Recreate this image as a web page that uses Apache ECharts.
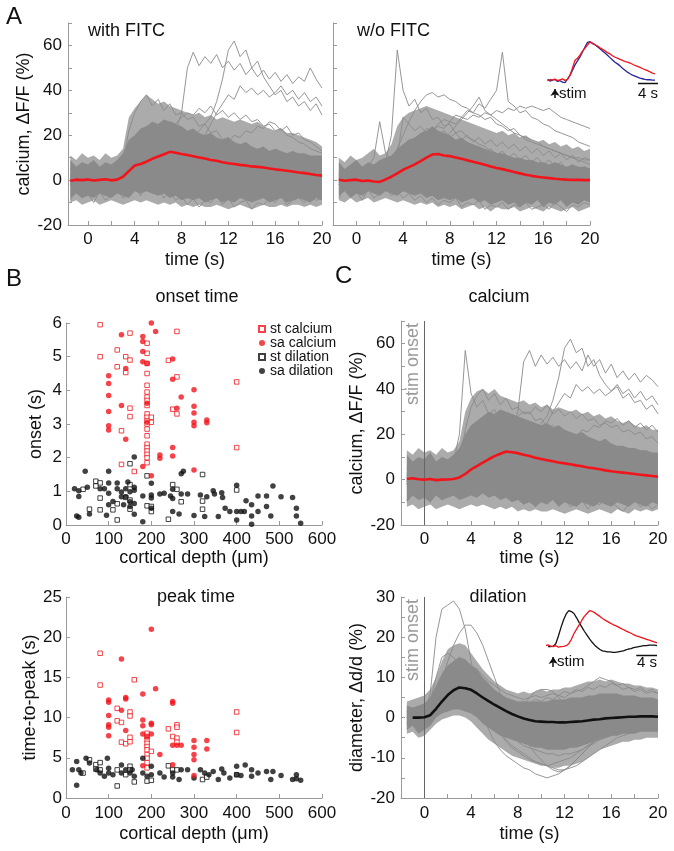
<!DOCTYPE html>
<html><head><meta charset="utf-8">
<script src="https://cdn.jsdelivr.net/npm/echarts@6/dist/echarts.min.js"></script>
<style>html,body{margin:0;padding:0;background:#fff}#c{width:674px;height:851px}</style>
</head><body><div id="c"></div>
<script>
// ---------- time base (s) ----------
const T = [-1.5,-1,-0.5,0, 0.5,1,1.5,2,2.5, 3,3.5,4,4.5,5, 5.5,6,6.5,7,7.5, 8,8.5,9,9.5,10, 10.5,11,11.5,12,12.5, 13,13.5,14,14.5,15, 15.5,16,16.5,17,17.5, 18,18.5,19,19.5,20];

// ---------- A: with FITC ----------
const meanF = [-0.3,0.2,0,0.3, -0.2,0.1,0.4,-0.1,0.2, 1.5,4.0,6.5,7.2,8.2, 9.5,10.5,11.5,12.6,12.2, 11.6,11.2,10.6,10.1,9.6, 9.0,8.6,8.0,7.5,7.2, 6.8,6.5,6.1,5.9,5.6, 5.2,4.8,4.5,4.2,3.8, 3.4,3.1,2.7,2.3,2.0];
const lowF = [-8,-6,-8,-7, -8,-6,-7,-8,-6, -7,-8,-5,-6,-5, -6,-7,-6,-8,-7, -9,-8,-9,-8,-10, -9,-8,-10,-9,-10, -8,-9,-10,-9,-8, -10,-9,-8,-10,-9, -8,-9,-10,-8,-9];
const upF = [9,6,8,7, 9,6,8,7,9, 12,18,20,23,24, 26,25,27,26,25, 24,22,23,21,20, 21,19,18,19,17, 16,17,15,14,15, 13,14,13,12,13, 12,12,11,11,11];
const oLoF = [-10,-9,-11,-10, -9,-11,-10,-9,-10, -11,-10,-9,-10,-9, -10,-11,-10,-11,-10, -12,-11,-12,-11,-12, -12,-11,-12,-13,-12, -11,-12,-13,-12,-11, -12,-12,-11,-12,-11, -11,-12,-11,-12,-11];
const oUpF = [11,9,12,10, 11,9,12,10,11, 14,28,32,35,38, 36,34,35,33,32, 31,30,29,30,28, 29,27,28,27,26, 27,26,25,26,24, 23,22,23,21,21, 20,19,18,17,15];
const fL1 = [5,1,4,3, 0,4,2,5,3, 6,10,14,12,16, 15,18,17,20,22, 30,50,57,51,55, 52,56,50,53,49, 52,47,50,46,49, 45,48,44,47,43, 46,44,50,45,41];
const fL2 = [1,-3,2,0, 3,-1,2,0,4, 3,7,9,8,11, 10,12,11,14,13, 15,16,18,22,25, 28,35,45,58,62, 55,58,50,53,46, 42,38,40,35,37, 33,35,31,34,29];
const fL3 = [-2,3,0,2, -1,3,1,-2,2, 4,8,12,10,14, 13,16,15,17,14, 16,14,15,17,20, 25,30,34,38,36, 42,39,41,38,40, 37,39,42,38,40, 36,39,35,37,33];
const fL4 = [-2,4,0,5, -1,3,1,-2,4, 8,22,30,35,38, 33,36,31,34,29, 30,27,28,24,25, 21,22,18,19,15, 16,12,13,10,11, 8,9,6,7,4, 5,3,4,1,2];
const fL5 = [2,-4,1,-2, 3,-1,2,-3,1, 0,6,10,14,18, 20,24,22,26,25, 28,30,29,32,30, 33,29,31,28,30, 27,29,26,27,24, 25,22,23,20,19, 17,16,14,13,12];
const fL6 = [-9,-4,-8,-6, -10,-5,-9,-7,-4, -8,-6,-3,-7,-2, -6,-4,-8,-5,-9, -7,-11,-8,-12,-9, -10,-7,-11,-8,-12, -10,-9,-13,-10,-11, -8,-10,-7,-11,-9, -8,-10,-7,-9,-8];
const fL7 = [-1,6,2,-3, 5,0,7,1,-2, 3,9,14,12,17, 15,19,16,20,18, 17,19,15,18,14, 16,13,15,12,14, 11,13,10,12,9, 11,8,10,7,9, 6,8,5,7,6];
const fL8 = [3,-2,4,0, -3,2,-1,3,0, 1,5,8,6,10, 9,12,11,13,12, 14,13,12,15,14, 16,15,18,17,20, 19,22,21,24,23, 26,25,22,24,20, 21,18,17,15,13];

// ---------- A: w/o FITC ----------
const meanN = [0.2,-0.3,0,0.2, -0.4,-0.2,-0.6,-0.8,0.3, 1.5,3.0,4.6,5.8,7.0, 8.5,10.0,11.4,11.6,11.0, 10.7,10.1,9.5,8.8,8.2, 7.5,6.8,6.1,5.4,4.9, 4.3,3.6,3.0,2.4,1.9, 1.5,1.2,0.9,0.6,0.4, 0.2,0.1,0.1,0,0];
const lowN = [-7,-5,-8,-6, -7,-5,-6,-7,-5, -6,-7,-5,-6,-7, -6,-8,-7,-9,-8, -9,-8,-10,-9,-8, -10,-9,-11,-10,-9, -11,-10,-12,-10,-11, -9,-12,-10,-11,-9, -12,-10,-11,-9,-10];
const upN = [8,5,7,9, 6,8,7,9,10, 11,14,16,18,19, 21,22,24,22,21, 20,18,19,17,16, 15,14,13,12,12, 11,10,10,9,9, 8,8,7,8,7, 6,7,6,6,5];
const oLoN = [-9,-10,-8,-10, -9,-8,-10,-9,-8, -9,-10,-9,-10,-11, -10,-11,-10,-12,-11, -12,-11,-13,-12,-11, -13,-12,-14,-12,-13, -13,-12,-14,-13,-12, -13,-14,-12,-13,-14, -13,-12,-14,-13,-12];
const oUpN = [10,8,11,9, 10,12,14,11,12, 16,24,28,30,31, 32,33,32,31,30, 29,28,27,26,25, 24,23,22,21,22, 20,21,19,20,18, 17,18,16,17,15, 16,14,15,13,14];
const nR1 = [-1,3,0,4, 1,-2,3,5,8, 20,58,40,33,36, 30,32,27,28,24, 25,21,22,19,18, 16,15,13,12,11, 10,9,8,7,6, 6,5,4,5,3, 4,2,3,2,1];
const nR2 = [2,-2,1,3, -1,2,0,4,6, 9,14,20,26,31, 35,38,39,37,38, 36,35,33,32,30, 29,27,28,25,24, 22,23,20,19,18, 17,15,14,13,12, 11,10,9,8,7];
const nR3 = [-2,2,0,-3, 1,3,-1,2,0, 4,7,10,14,18, 20,23,22,25,27, 26,29,28,31,30, 34,32,36,40,57, 35,33,30,31,28, 27,25,24,22,21, 20,19,17,16,15];
const nR4 = [3,-1,2,4, 0,-2,3,1,5, 8,12,15,18,17, 20,19,22,24,23, 26,25,28,27,29, 28,30,29,31,30, 32,31,33,32,33, 32,31,32,30,28, 27,26,25,24,23];
const nR5 = [0,4,1,5, 2,6,10,26,12, 9,11,13,12,15, 14,16,15,17,16, 15,17,14,16,13, 15,12,14,11,13, 10,12,9,11,8, 10,7,9,6,8, 5,7,4,6,5];
const nR6 = [-8,-3,-7,-5, -9,-4,-8,-6,-3, -7,-5,-8,-6,-9, -7,-10,-8,-11,-9, -10,-8,-12,-10,-11, -9,-13,-11,-12,-10, -13,-11,-12,-10,-13, -12,-11,-13,-10,-12, -14,-11,-12,-10,-11];
const nR7 = [-2,3,0,-1, 2,1,-3,0,3, 6,10,28,25,22, 24,21,23,20,22, 19,21,18,20,17, 19,16,18,15,17, 14,16,13,15,12, 14,11,13,10,12, 9,11,8,10,9];
const nR8 = [1,-2,2,0, -1,1,2,0,3, 5,7,9,11,13, 15,17,16,19,18, 21,24,27,30,33, 37,31,29,27,25, 23,21,20,18,17, 16,15,14,13,12, 11,10,10,9,9];

// ---------- C: calcium (all) ----------
const meanA = [0.3,0.6,0.2,0, 0.3,-0.2,0,0.1,0.3, 1.0,2.5,4.5,6.0,7.5, 9.0,10.4,11.4,12.4,12.1, 11.7,11.0,10.4,9.7,9.1, 8.6,8.1,7.6,7.2,6.8, 6.3,5.9,5.4,5.0,4.6, 4.1,3.7,3.4,3.1,2.8, 2.5,2.2,1.9,1.6,1.3];
const lowA = [-10,-7,-9,-8, -10,-7,-9,-8,-7, -9,-8,-7,-8,-6, -8,-7,-9,-8,-10, -9,-11,-10,-12,-10, -11,-9,-12,-10,-11, -12,-10,-11,-12,-10, -11,-12,-10,-11,-12, -10,-11,-12,-10,-11];
const upA = [11,8,10,9, 12,8,10,9,11, 14,20,24,26,28, 30,29,31,30,29, 28,27,26,25,24, 25,23,24,22,21, 20,21,19,18,17, 18,16,15,15,14, 14,13,13,12,12];
const oLoA = [-12,-11,-13,-12, -11,-13,-12,-11,-12, -13,-12,-11,-12,-11, -12,-13,-12,-13,-12, -14,-13,-14,-13,-14, -14,-13,-14,-15,-14, -13,-14,-15,-14,-13, -14,-15,-13,-14,-15, -13,-14,-13,-14,-13];
const oUpA = [13,11,14,12, 13,11,14,12,13, 17,30,36,39,40, 38,40,37,36,35, 34,35,33,34,32, 33,31,32,31,30, 31,29,30,28,29, 27,28,26,25,26, 24,23,24,22,22];
const aC1 = [-1,3,0,4, 1,-2,3,5,8, 20,57,38,32,35, 29,31,26,27,23, 24,20,21,18,17, 15,14,12,11,10, 9,8,7,6,5, 5,4,3,4,2, 3,1,2,1,0];
const aC2 = [5,1,4,3, 0,4,2,5,3, 6,10,14,12,16, 15,18,17,20,22, 30,52,57,50,55, 51,54,50,53,49, 52,48,55,50,53, 47,51,45,48,44, 47,43,46,44,41];
const aC3 = [1,-3,2,0, 3,-1,2,0,4, 3,7,9,8,11, 10,12,11,14,13, 15,16,18,22,25, 28,35,45,58,62, 56,58,50,53,46, 42,39,41,36,38, 34,35,31,33,29];
const aC4 = [-2,3,0,2, -1,3,1,-2,2, 4,8,12,10,14, 13,16,15,17,14, 16,14,15,17,20, 25,30,34,38,36, 42,39,41,38,40, 37,39,42,38,40, 36,39,35,37,33];
const aC5 = [-2,4,0,5, -1,3,1,-2,4, 8,22,32,37,40, 35,38,33,36,31, 32,29,30,26,27, 23,24,20,21,17, 18,14,15,12,13, 10,11,8,9,6, 7,5,6,3,4];
const aC6 = [2,-4,1,-2, 3,-1,2,-3,1, 0,6,10,14,18, 20,24,22,26,25, 28,30,29,32,30, 33,29,31,28,30, 27,29,26,27,24, 25,23,24,21,22, 20,21,18,19,16];
const aC7 = [-9,-4,-8,-6, -10,-5,-9,-7,-4, -8,-6,-3,-7,-2, -6,-4,-8,-5,-9, -7,-11,-8,-12,-9, -10,-7,-11,-8,-12, -10,-9,-13,-10,-11, -8,-10,-12,-14,-11, -9,-12,-10,-13,-11];
const aC8 = [-1,6,2,-3, 5,0,7,1,-2, 3,9,14,12,17, 15,19,16,20,18, 17,19,15,18,14, 16,13,15,12,14, 11,13,10,12,9, 11,8,10,7,9, 6,8,5,7,6];
const aC9 = [3,-2,4,0, -3,2,-1,3,0, 1,5,8,6,10, 9,12,11,13,12, 14,13,12,15,14, 16,15,18,17,20, 19,22,21,24,23, 26,25,27,24,26, 23,25,22,24,21];

// ---------- C: dilation ----------
const meanD = [null,0,0,0.1, 0.6,2.2,4.0,5.6,6.8, 7.5,7.3,6.9,6.0,5.0, 4.1,3.2,2.4,1.6,0.9, 0.3,-0.2,-0.6,-0.9,-1.0, -1.1,-1.1,-1.2,-1.2,-1.1, -1.0,-0.9,-0.7,-0.5,-0.4, -0.2,-0.1,0,0.1,0.2, 0.2,0.3,0.3,0.3,0.2];
const lowD = [-3,-2,-4,-3, -2,0,1,1.5,2, 2,1.5,1,0,-1.5, -2.5,-3.5,-4.5,-5,-5.5, -6,-6.5,-7,-7.5,-7.5, -8,-8,-8,-8,-7.5, -7.5,-7,-6.5,-6,-5.5, -5,-4.5,-4.5,-4,-4, -4,-3.5,-3.5,-3.5,-3.5];
const upD = [3,2.5,3,3.5, 5,8,11,13,14, 15,14.5,13,12,10, 8.5,7,6,5,4.5, 4,4,4,4,4, 4,4.5,4.5,4.5,5, 5,5,5.5,5.5,6, 6,6,6,5.5,5.5, 5.5,5,5,5,4.5];
const oLoD = [-4,-3.5,-5,-4.5, -3,-1.5,-0.5,0,0.5, 0.5,0,-1,-2.5,-4, -5.5,-6.5,-7.5,-8.5,-9.5, -10,-10.5,-11,-11.5,-12, -12,-12.5,-12.5,-12,-12, -11.5,-11,-10,-9,-8, -7.5,-7,-6.5,-6,-6, -5.5,-5.5,-5,-5,-5];
const oUpD = [4,4.5,5,5.5, 7,10,14,17,18, 18.5,18,16,14,12, 10.5,9,8,7,6.5, 6,6.5,6,6.5,7, 6.5,7,7,7.5,7.5, 8,8.5,9,9,9.5, 9,9.5,9,8.5,8.5, 8,8,7.5,7.5,7];
const dD1 = [0,1,-0.5,0.5, 6,20,27,28,29, 27,22,14,7,1, -3,-6,-8,-9.5,-10.5, -11.5,-12.5,-13,-14,-14.5, -15,-14.5,-14,-13,-12, -10.5,-9,-7.5,-6,-4.5, -3.5,-2.5,-1.5,-1,-0.5, 0,0,0.5,0,0.5];
const dD2 = [0,-1,0.5,0, 2,5,9,14,18, 21,23,23,21,18, 14,10,6,3,0, -2.5,-5,-7,-9,-10.5, -12,-13,-13.5,-13,-12, -10.5,-9,-7.5,-6,-4.5, -3.5,-2.5,-1.5,-1,-0.5, 0,0,0.5,0.5,0];
const dD3 = [0.5,-0.5,1,0, 2,5,8,10,11, 11,10,9,8,6, 5,4,3,2.5,2, 2,3,5,6.5,7, 7,6.5,5,3.5,2.5, 2,1.5,1,1,0.5, 0.5,0,0,0.5,0, 0,0.5,0,0.5,0];
const dD4 = [-1,0,1,0, 1,3,5,7,8, 9,8.5,8,7,6, 5,4,3.5,3,3.5, 3,4,3.5,4.5,4, 5,4.5,5.5,5,6, 6.5,7,8,9,10, 9.5,9,8,8.5,7.5, 7,7.5,6.5,7,6];
const dD5 = [0,1,-1,0, 1,4,8,11,12, 12,11,9,7,4, 1,-2,-4,-6,-7.5, -8.5,-9.5,-10.5,-11,-11.5, -12,-12.5,-13,-13,-12.5, -12,-11,-10,-9,-8, -7,-6,-5,-4.5,-4, -3.5,-3,-3,-2.5,-2];
const dD6 = [1.5,-1,2,1, 3,6,9,12,14, 15,14,13,12,10.5, 9,8,7,6,5.5, 5,4.5,5,5.5,5, 5.5,6,5.5,6.5,6, 7,6.5,7.5,7,8, 7.5,8.5,8,7,7.5, 6.5,7,6,6.5,6];
const dD7 = [-1.5,0,-2,-1, 0,2,4,6,7.5, 8,7.5,6.5,5,3, 1,-1,-2.5,-4,-5, -6,-7,-7.5,-8,-8.5, -9,-9,-9.5,-9,-9, -8.5,-8,-7,-6.5,-5.5, -5,-4.5,-4,-3.5,-3, -3,-2.5,-2.5,-2,-2];
const dD8 = [0,-2,1,-1, 4,10,15,16,15, 13,11,8,5,2, 0,-2,-4,-5.5,-7, -8,-9,-10,-11,-11.5, -12,-11.5,-11,-10.5,-10, -9,-8,-7,-6,-5, -4,-3.5,-3,-2.5,-2, -2,-1.5,-1.5,-1,-1];

// ---------- B: onset time [depth um, onset s] ----------
const stCaOn = [[80,5.95],[80,5.0],[150,5.7],[120,5.2],[120,4.7],[140,5.0],[150,4.9],[140,4.53],[130,2.8],[130,1.8],[150,3.47],[150,3.22],[160,1.59],
 [190,5.4],[190,5.1],[190,4.8],[190,4.5],[190,4.15],[190,3.95],[190,3.8],[190,3.7],[190,3.55],[190,3.3],[190,3.2],[190,3.1],[190,3.0],[190,2.85],[190,2.65],[190,2.4],[190,2.3],[190,2.2],[190,2.1],[190,2.0],[190,1.85],
 [200,3.2],[200,3.05],[240,4.89],[260,5.75],[260,4.4],[250,3.44],[260,3.3],[400,4.25],[400,2.3]];
const saCaOn = [[130,5.65],[100,4.43],[100,4.2],[100,3.85],[100,3.37],[100,2.95],[100,2.82],[130,3.55],[140,4.65],[140,2.55],[180,5.6],[180,5.45],[180,5.15],[180,4.85],[190,4.8],[190,3.62],[190,3.05],[180,1.74],[200,1.46],[200,6.0],[210,5.75],[220,2.08],[220,1.98],[250,4.93],[250,4.33],[250,2.3],[250,2.05],[260,3.47],[270,3.8],[300,4.02],[300,3.53],[300,3.33],[300,3.05],[300,2.95],[300,1.63],[330,3.12],[330,3.04]];
const stDiOn = [[40,1.06],[70,1.3],[80,1.25],[70,1.16],[80,0.8],[55,0.47],[80,0.45],[110,0.45],[120,0.15],[120,0.63],[140,0.82],[150,1.82],[150,1.2],[150,0.74],[150,0.47],[190,1.46],[190,0.57],[200,0.4],[200,0.55],[240,0.17],[250,1.2],[260,1.06],[270,0.69],[320,1.5],[320,0.71],[320,0.47],[400,1.04]];
const saDiOn = [[20,1.08],[30,1.02],[30,0.85],[25,0.27],[30,0.23],[45,1.6],[50,1.12],[55,0.33],[80,1.08],[90,1.08],[100,1.6],[100,1.25],[100,0.94],[100,0.6],[95,0.29],[110,0.7],[120,1.25],[120,1.08],[130,0.98],[130,0.84],[135,0.6],[140,1.08],[140,0.84],[145,1.28],[150,0.99],[150,0.69],[150,0.55],[160,2.02],[160,1.12],[160,0.64],[160,0.32],[160,1.03],[180,0.86],[180,0.1],[200,1.24],[200,0.89],[200,0.8],[200,0.5],[220,0.92],[230,0.94],[245,0.86],[250,1.06],[250,0.79],[250,0.4],[265,0.33],[270,1.52],[275,1.6],[270,0.92],[285,0.92],[300,0.28],[315,0.89],[325,0.25],[330,0.84],[345,1.02],[348,0.92],[357,0.25],[365,0.96],[367,0.82],[373,0.5],[384,0.4],[400,1.18],[400,0.4],[400,0.15],[410,0.4],[418,0.4],[422,0.72],[435,0.6],[435,0.27],[435,0.02],[450,0.86],[450,0.4],[470,0.86],[470,0.55],[480,0.27],[485,1.16],[504,0.84],[531,0.82],[540,0.5],[540,0.27],[550,0.05]];

// ---------- B: peak time [depth um, time-to-peak s] ----------
const stCaPk = [[80,18.0],[80,14.05],[160,14.7],[120,11.15],[120,9.6],[130,9.4],[150,10.7],[150,10.2],[130,6.95],[140,6.75],[150,7.0],[150,7.55],[190,8.05],[190,7.65],[190,7.25],[190,6.8],[190,6.4],[190,6.0],[190,5.4],[190,4.95],[190,4.4],[190,3.75],[200,5.8],[240,8.6],[250,7.65],[260,9.1],[260,8.8],[260,7.45],[260,6.95],[400,10.7],[400,8.15]];
const saCaPk = [[200,21.0],[130,17.3],[210,13.6],[180,12.95],[100,12.2],[100,11.9],[130,10.9],[140,12.5],[140,12.3],[100,10.25],[100,9.1],[100,8.8],[100,7.75],[140,8.4],[180,9.7],[180,9.0],[180,7.95],[200,9.3],[200,9.1],[200,7.95],[180,4.0],[220,5.4],[250,12.0],[250,11.8],[250,6.55],[250,4.15],[270,6.55],[260,6.55],[300,7.15],[300,6.3],[300,5.4],[300,4.75],[300,2.8],[330,7.15],[330,6.1],[190,7.6]];
const stDiPk = [[40,3.1],[55,4.75],[70,4.15],[80,4.4],[70,3.6],[80,3.5],[120,1.5],[120,3.5],[140,2.9],[150,3.95],[150,3.5],[160,2.0],[190,2.1],[200,2.2],[240,4.0],[250,3.5],[260,3.5],[320,2.3],[330,2.6],[400,2.9]];
const saDiPk = [[25,1.6],[15,3.5],[25,4.55],[30,3.5],[35,3.1],[47,4.95],[55,4.35],[72,3.5],[80,3.1],[97,4.95],[100,3.7],[100,3.1],[90,2.7],[110,2.9],[130,4.1],[130,3.1],[140,3.5],[150,3.1],[155,3.5],[160,2.7],[180,4.95],[180,3.1],[190,2.7],[200,3.95],[200,2.9],[220,3.1],[230,2.6],[250,3.1],[250,2.6],[265,2.3],[270,3.5],[285,3.5],[300,2.5],[315,3.5],[325,3.1],[335,2.9],[345,3.3],[357,2.3],[365,3.6],[370,3.1],[384,2.5],[400,3.95],[400,2.9],[420,4.1],[410,2.8],[435,3.5],[435,2.7],[450,3.1],[470,3.3],[480,2.3],[485,3.3],[504,2.8],[531,2.3],[540,2.9],[540,2.4],[550,2.2]];

// ---------- tick values ----------
const timeLabels = [0,4,8,12,16,20];
const timeTicks = [0,2,4,6,8,10,12,14,16,18,20];
const caLabels = [-20,0,20,40,60];
const caTicks = [-20,-10,0,10,20,30,40,50,60,70];
const diLabels = [-20,-10,0,10,20,30];
const diTicks = [-20,-15,-10,-5,0,5,10,15,20,25,30];
const depthLabels = [0,100,200,300,400,500,600];
const onsetLabels = [0,1,2,3,4,5,6];
const peakLabels = [0,5,10,15,20,25];

// ---------- styling ----------
const FONT = '"Liberation Sans", Arial, Helvetica, sans-serif';
const AX = '#9a9a9a', TXT = '#111';
const GRAY = '#8a8a8a', LGRAY = '#ababab', RED = '#f2141b', BLUE = '#26269a', BLK = '#111';

function axis(gi, o) {
  return {
    type: 'value', gridIndex: gi, min: o.min, max: o.max,
    axisLine: { show: true, onZero: false, lineStyle: { color: AX, width: 1 } },
    axisTick: { show: true, inside: true, length: 4, lineStyle: { color: AX }, customValues: o.ticks },
    axisLabel: { show: o.labels !== null, customValues: o.labels || [], color: TXT, fontSize: 17, fontFamily: FONT, margin: o.margin || 5 },
    splitLine: { show: false },
    name: o.name || '', nameLocation: 'middle', nameGap: o.gap || 25,
    nameTextStyle: { fontSize: 18, color: TXT, fontFamily: FONT }
  };
}
function hidden(gi, min, max) {
  return { type: 'value', gridIndex: gi, min, max, show: false, splitLine: { show: false } };
}
function pts(arr) { const r = []; T.forEach((t, i) => { if (arr[i] !== null && arr[i] !== undefined) r.push([t, arr[i]]); }); return r; }
function trace(gi, arr, color, w, z) {
  return { type: 'line', xAxisIndex: gi, yAxisIndex: gi, data: pts(arr), symbol: 'none', showSymbol: false,
    lineStyle: { color, width: w }, z, silent: true, animation: false, clip: true };
}
function band(gi, lo, up, fill, z) {
  return { type: 'custom', xAxisIndex: gi, yAxisIndex: gi, clip: true, silent: true, z, animation: false,
    data: [[5, 0]],
    renderItem: function (params, api) {
      const p = [];
      for (let i = 0; i < T.length; i++) if (up[i] !== null) p.push(api.coord([T[i], up[i]]));
      for (let i = T.length - 1; i >= 0; i--) if (lo[i] !== null) p.push(api.coord([T[i], lo[i]]));
      return { type: 'polygon', shape: { points: p }, style: { fill } };
    } };
}
function norm(a) { const m = Math.max(...a.filter(v => v !== null)); return a.map(v => v === null ? null : v / m); }
function seg(gi, coords, color, arrow) {
  return { type: 'lines', coordinateSystem: 'cartesian2d', xAxisIndex: gi, yAxisIndex: gi, silent: true, animation: false,
    symbol: arrow ? ['none', 'arrow'] : ['none', 'none'], symbolSize: arrow ? 7 : 0,
    lineStyle: { color, width: arrow ? 1.5 : 1.3, opacity: 1, curveness: 0 }, data: [{ coords }], z: 5 };
}
function sc(gi, name, data, color, hollow) {
  return { type: 'scatter', name, xAxisIndex: gi, yAxisIndex: gi, data, silent: true, animation: false,
    symbol: hollow ? 'rect' : 'circle', symbolSize: hollow ? 4.5 : 5.5,
    itemStyle: hollow ? { color: '#fff', borderColor: color, borderWidth: 1 } : { color, borderWidth: 0 }, z: hollow ? 3 : 4 };
}

const grids = [
  { left: 68, top: 23, width: 254, height: 202 },   // 0 A with FITC
  { left: 333, top: 23, width: 257, height: 202 },  // 1 A w/o FITC
  { left: 547, top: 36, width: 111, height: 64 },   // 2 inset A
  { left: 66, top: 323, width: 256, height: 202 },  // 3 B onset
  { left: 66, top: 597, width: 256, height: 201 },  // 4 B peak
  { left: 401, top: 321, width: 257, height: 204 }, // 5 C calcium
  { left: 401, top: 597, width: 257, height: 201 }, // 6 C dilation
  { left: 547, top: 607, width: 110, height: 63 }   // 7 inset C
];

const xAxes = [
  axis(0, { min: -1.7, max: 20, ticks: timeTicks, labels: timeLabels, name: 'time (s)', gap: 26, margin: 6 }),
  axis(1, { min: -2, max: 20, ticks: timeTicks, labels: timeLabels, name: 'time (s)', gap: 26, margin: 6 }),
  hidden(2, -1.6, 20.6),
  axis(3, { min: 0, max: 600, ticks: depthLabels, labels: depthLabels, name: 'cortical depth (\u03bcm)', gap: 24, margin: 6 }),
  axis(4, { min: 0, max: 600, ticks: depthLabels, labels: depthLabels, name: 'cortical depth (\u03bcm)', gap: 27, margin: 7 }),
  axis(5, { min: -2, max: 20, ticks: timeTicks, labels: timeLabels, name: 'time (s)', gap: 24, margin: 6 }),
  axis(6, { min: -2, max: 20, ticks: timeTicks, labels: timeLabels, name: 'time (s)', gap: 27, margin: 7 }),
  hidden(7, -1.2, 20)
];
const yAxes = [
  axis(0, { min: -20, max: 70, ticks: caTicks, labels: caLabels, name: 'calcium, \u0394F/F (%)', gap: 27, margin: 6 }),
  axis(1, { min: -20, max: 70, ticks: caTicks, labels: null }),
  hidden(2, -0.52, 1.15),
  axis(3, { min: 0, max: 6, ticks: onsetLabels, labels: onsetLabels, name: 'onset (s)', gap: 21, margin: 4 }),
  axis(4, { min: 0, max: 25, ticks: peakLabels, labels: peakLabels, name: 'time-to-peak (s)', gap: 22, margin: 4 }),
  axis(5, { min: -20, max: 70, ticks: caTicks, labels: caLabels, name: 'calcium, \u0394F/F (%)', gap: 27, margin: 6 }),
  axis(6, { min: -20, max: 30, ticks: diTicks, labels: diLabels, name: 'diameter, \u0394d/d (%)', gap: 27, margin: 6 }),
  hidden(7, -0.65, 1.1)
];

const series = [];
// A with FITC
series.push(band(0, oLoF, oUpF, LGRAY, 0));
series.push(band(0, lowF, upF, GRAY, 1));
[fL1, fL2, fL3, fL4, fL5, fL6, fL7, fL8].forEach(a => series.push(trace(0, a, GRAY, 0.9, 2)));
series.push(trace(0, meanF, RED, 2.6, 6));
// A w/o FITC
series.push(band(1, oLoN, oUpN, LGRAY, 0));
series.push(band(1, lowN, upN, GRAY, 1));
[nR1, nR2, nR3, nR4, nR5, nR6, nR7, nR8].forEach(a => series.push(trace(1, a, GRAY, 0.9, 2)));
series.push(trace(1, meanN, RED, 2.6, 6));
// inset A
series.push(trace(2, norm(meanN), BLUE, 1.3, 5));
series.push(trace(2, norm(meanF), RED, 1.3, 6));
series.push(seg(2, [[0, -0.47], [0, -0.235]], BLK, true));
series.push(seg(2, [[16.6, -0.08], [20.6, -0.08]], BLK, false));
// B onset
series.push(sc(3, 'st dilation', stDiOn, BLK, true));
series.push(sc(3, 'sa dilation', saDiOn, BLK, false));
series.push(sc(3, 'st calcium', stCaOn, RED, true));
series.push(sc(3, 'sa calcium', saCaOn, RED, false));
// B peak
series.push(sc(4, 'st dilation', stDiPk, BLK, true));
series.push(sc(4, 'sa dilation', saDiPk, BLK, false));
series.push(sc(4, 'st calcium', stCaPk, RED, true));
series.push(sc(4, 'sa calcium', saCaPk, RED, false));
// C calcium
series.push(band(5, oLoA, oUpA, LGRAY, 0));
series.push(band(5, lowA, upA, GRAY, 1));
[aC1, aC2, aC3, aC4, aC5, aC6, aC7, aC8, aC9].forEach(a => series.push(trace(5, a, GRAY, 0.9, 2)));
const stimLine = {
  silent: true, symbol: ['none', 'none'], animation: false,
  lineStyle: { color: '#666', width: 1, type: 'solid' },
  label: { show: true, formatter: 'stim onset', position: 'insideEndTop', color: '#9a9a9a', fontSize: 18, fontFamily: FONT, distance: 2 },
  data: [{ xAxis: 0 }]
};
const mA = trace(5, meanA, RED, 2.6, 6); mA.markLine = stimLine; series.push(mA);
// C dilation
series.push(band(6, oLoD, oUpD, LGRAY, 0));
series.push(band(6, lowD, upD, GRAY, 1));
[dD1, dD2, dD3, dD4, dD5, dD6, dD7, dD8].forEach(a => series.push(trace(6, a, GRAY, 0.9, 2)));
const mD = trace(6, meanD, BLK, 2.6, 6); mD.markLine = JSON.parse(JSON.stringify(stimLine)); series.push(mD);
// inset C
series.push(trace(7, norm(meanD), BLK, 1.3, 5));
series.push(trace(7, norm(meanA), RED, 1.3, 6));
series.push(seg(7, [[0, -0.57], [0, -0.29]], BLK, true));
series.push(seg(7, [[16, -0.23], [20, -0.23]], BLK, false));

function txt(x, y, s, size, align, color) {
  return { type: 'text', x, y, silent: true, style: { text: s, fontSize: size, fontFamily: FONT, fill: color || TXT, align: align || 'left', verticalAlign: 'middle' } };
}

const option = {
  animation: false,
  backgroundColor: '#fff',
  grid: grids,
  xAxis: xAxes,
  yAxis: yAxes,
  legend: {
    left: 258, top: 322, orient: 'vertical', padding: 0, itemGap: 0, itemWidth: 6, itemHeight: 6,
    selectedMode: false,
    data: ['st calcium', 'sa calcium', 'st dilation', 'sa dilation'],
    textStyle: { fontSize: 14, lineHeight: 11.5, color: TXT, fontFamily: FONT, padding: [0, 0, 0, 0] }
  },
  series,
  graphic: [
    txt(6, 17, 'A', 24), txt(6, 279, 'B', 24), txt(335, 276, 'C', 24),
    txt(88, 31, 'with FITC', 18), txt(357, 31, 'w/o FITC', 18),
    txt(197, 297, 'onset time', 18, 'center'), txt(196, 597, 'peak time', 18, 'center'),
    txt(499, 297, 'calcium', 18, 'center'), txt(498, 597, 'dilation', 18, 'center'),
    txt(559, 94, 'stim', 15), txt(648, 94, '4 s', 15, 'center'),
    txt(557, 662, 'stim', 15), txt(647, 663, '4 s', 15, 'center')
  ]
};
const chart = echarts.init(document.getElementById('c'), null, { renderer: 'canvas' });
chart.setOption(option);
</script></body></html>
